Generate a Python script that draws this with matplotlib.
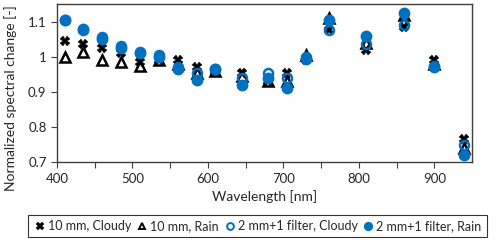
import matplotlib
matplotlib.use("Agg")
import matplotlib.pyplot as plt
from matplotlib.ticker import FixedLocator, FuncFormatter

wavelength = [410, 435, 460, 485, 510, 535, 560, 585, 610, 645, 680, 705, 730, 760, 810, 860, 900, 940]
cloudy_10mm = [1.045, 1.035, 1.025, 1.01, 0.985, 0.99, 0.99, 0.97, 0.96, 0.955, 0.93, 0.955, 0.99, 1.075, 1.02, 1.085, 0.99, 0.765]
rain_10mm = [1.0, 1.015, 0.99, 0.985, 0.975, 0.99, 0.98, 0.955, 0.96, 0.945, 0.93, 0.93, 1.005, 1.11, 1.04, 1.12, 0.98, 0.74]
cloudy_2mm = [1.105, 1.075, 1.055, 1.03, 1.015, 1.005, 0.97, 0.955, 0.965, 0.94, 0.955, 0.94, 1.0, 1.075, 1.035, 1.09, 0.975, 0.75]
rain_2mm = [1.105, 1.08, 1.05, 1.025, 1.01, 1.0, 0.965, 0.935, 0.965, 0.92, 0.94, 0.91, 0.995, 1.105, 1.06, 1.125, 0.97, 0.72]

labels = ["10 mm, Cloudy", "10 mm, Rain", "2 mm+1 filter, Cloudy", "2 mm+1 filter, Rain"]

plt.rcParams['font.family'] = ['Lato', 'DejaVu Sans']
blue = '#0070C0'
txt = '#262626'

fig = plt.figure(figsize=(5, 2.41), dpi=100)
ax = fig.add_axes([0.114, 0.327, 0.830, 0.656])

ax.plot(wavelength, cloudy_10mm, linestyle='none', marker='X', ms=7, color='black', mec='black', mew=0.3, label=labels[0])
ax.plot(wavelength, rain_10mm, linestyle='none', marker='^', ms=6.5, mfc='none', mec='black', mew=1.8, label=labels[1])
ax.plot(wavelength, cloudy_2mm, linestyle='none', marker='o', ms=6.5, mfc='none', mec=blue, mew=1.8, label=labels[2])
ax.plot(wavelength, rain_2mm, linestyle='none', marker='o', ms=7.5, color=blue, mec=blue, label=labels[3])

ax.set_xlim(400, 950)
ax.set_ylim(0.7, 1.15)
ax.xaxis.set_major_locator(FixedLocator([400, 500, 600, 700, 800, 900]))
ax.xaxis.set_minor_locator(FixedLocator([450, 550, 650, 750, 850]))
ax.yaxis.set_major_locator(FixedLocator([0.7, 0.8, 0.9, 1.0, 1.1]))
ax.yaxis.set_major_formatter(FuncFormatter(lambda v, p: ('%g' % round(v, 2))))
ax.tick_params(axis='both', which='both', direction='out', labelsize=9.5, color='#404040',
               width=0.8, labelcolor=txt)
ax.tick_params(axis='both', which='major', length=4)
ax.tick_params(axis='x', which='minor', length=4)
for s in ax.spines.values():
    s.set_color('#404040')
    s.set_linewidth(1.0)

ax.set_xlabel('Wavelength [nm]', fontsize=10, labelpad=4, color=txt)
ax.set_ylabel('Normalized spectral change [-]', fontsize=10, color=txt, va='center')
ax.yaxis.set_label_coords(-0.112, 0.405)

leg = fig.legend(loc='lower center', bbox_to_anchor=(0.515, 0.017), ncol=4, fontsize=9,
                 frameon=True, fancybox=False, edgecolor='black', handlelength=1.1,
                 handletextpad=0.1, columnspacing=0.3, borderpad=0.4, borderaxespad=0.0,
                 markerscale=0.75, labelcolor=txt)
leg.get_frame().set_linewidth(0.8)
for h in leg.legend_handles:
    if h.get_marker() in ('^', 'o') and h.get_markerfacecolor() == 'none':
        h.set_markeredgewidth(1.4)

fig.savefig('out.png', dpi=100)
